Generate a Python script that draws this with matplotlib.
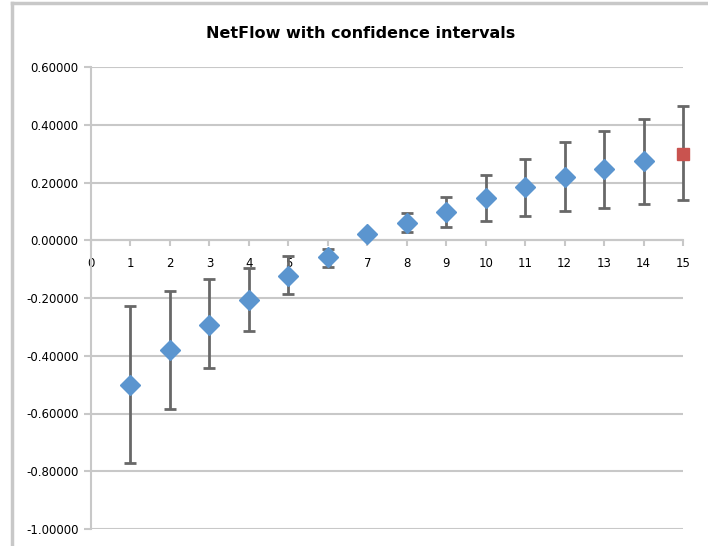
import numpy as np
import matplotlib.pyplot as plt
from matplotlib.lines import Line2D

# netflow per step, with confidence bounds
steps = [1, 2, 3, 4, 5, 6, 7, 8, 9, 10, 11, 12, 13, 14, 15]
netflow = [-0.503, -0.381, -0.292, -0.208, -0.124, -0.058, 0.021, 0.061, 0.098,
           0.147, 0.184, 0.219, 0.246, 0.273, 0.299]
ci_low = [-0.771, -0.586, -0.444, -0.313, -0.186, -0.092, 0.012, 0.028, 0.046,
          0.067, 0.083, 0.102, 0.112, 0.125, 0.139]
ci_high = [-0.228, -0.176, -0.135, -0.097, -0.053, -0.030, 0.030, 0.093, 0.150,
           0.225, 0.283, 0.341, 0.379, 0.420, 0.464]
yticks = [-1.0, -0.8, -0.6, -0.4, -0.2, 0.0, 0.2, 0.4, 0.6]

x = np.array(steps)
y = np.array(netflow)
yerr = [y - np.array(ci_low), np.array(ci_high) - y]

fig = plt.figure(figsize=(7.08, 5.46), dpi=100)
ax = fig.add_axes([91/708, 17/546, 592/708, 462/546])

grid_c = '#c8c8c8'
eb = ax.errorbar(x, y, yerr=yerr, fmt='none', ecolor='#686868', elinewidth=2,
                 capsize=4.5, capthick=2, zorder=3)
for art in eb.lines[1] + eb.lines[2]:
    art.set_clip_on(False)
ax.plot(x[:-1], y[:-1], 'D', color='#5b95cf', markersize=10, mec='#5b95cf', zorder=4)
ax.plot(x[-1:], y[-1:], 's', color='#c9534f', markersize=9, mec='#c9534f',
        zorder=4, clip_on=False)

ax.set_xlim(0, 15)
ax.set_ylim(-1.0, 0.6)
ax.set_yticks(yticks)
ax.set_yticklabels(['%.5f' % v for v in yticks])
ax.set_xticks(range(0, 16))
ax.yaxis.grid(True, color=grid_c, linewidth=1.5)
ax.set_axisbelow(True)

for s in ['top', 'right']:
    ax.spines[s].set_visible(False)
ax.spines['bottom'].set_position(('data', 0))
ax.spines['bottom'].set_color(grid_c)
ax.spines['bottom'].set_linewidth(1.5)
ax.spines['left'].set_color(grid_c)
ax.spines['left'].set_linewidth(1.5)
ax.tick_params(axis='y', colors=grid_c, labelcolor='black', labelsize=8.5,
               length=5, width=1.5, pad=4)
ax.tick_params(axis='x', colors=grid_c, labelcolor='black', labelsize=8.5,
               length=4, width=1.5, pad=8, direction='out')

fig.text(361/708, 1 - 33/546, 'NetFlow with confidence intervals',
         ha='center', va='center', fontsize=11.5, fontweight='bold')

# outer chart frame (left and top edges visible)
fig.add_artist(Line2D([12/708, 12/708], [0, 1 - 3/546], color='#c8c8c8', lw=2.5,
                      transform=fig.transFigure))
fig.add_artist(Line2D([12/708, 1], [1 - 3/546, 1 - 3/546], color='#c8c8c8', lw=2.5,
                      transform=fig.transFigure))

fig.savefig('out.png', dpi=100)
